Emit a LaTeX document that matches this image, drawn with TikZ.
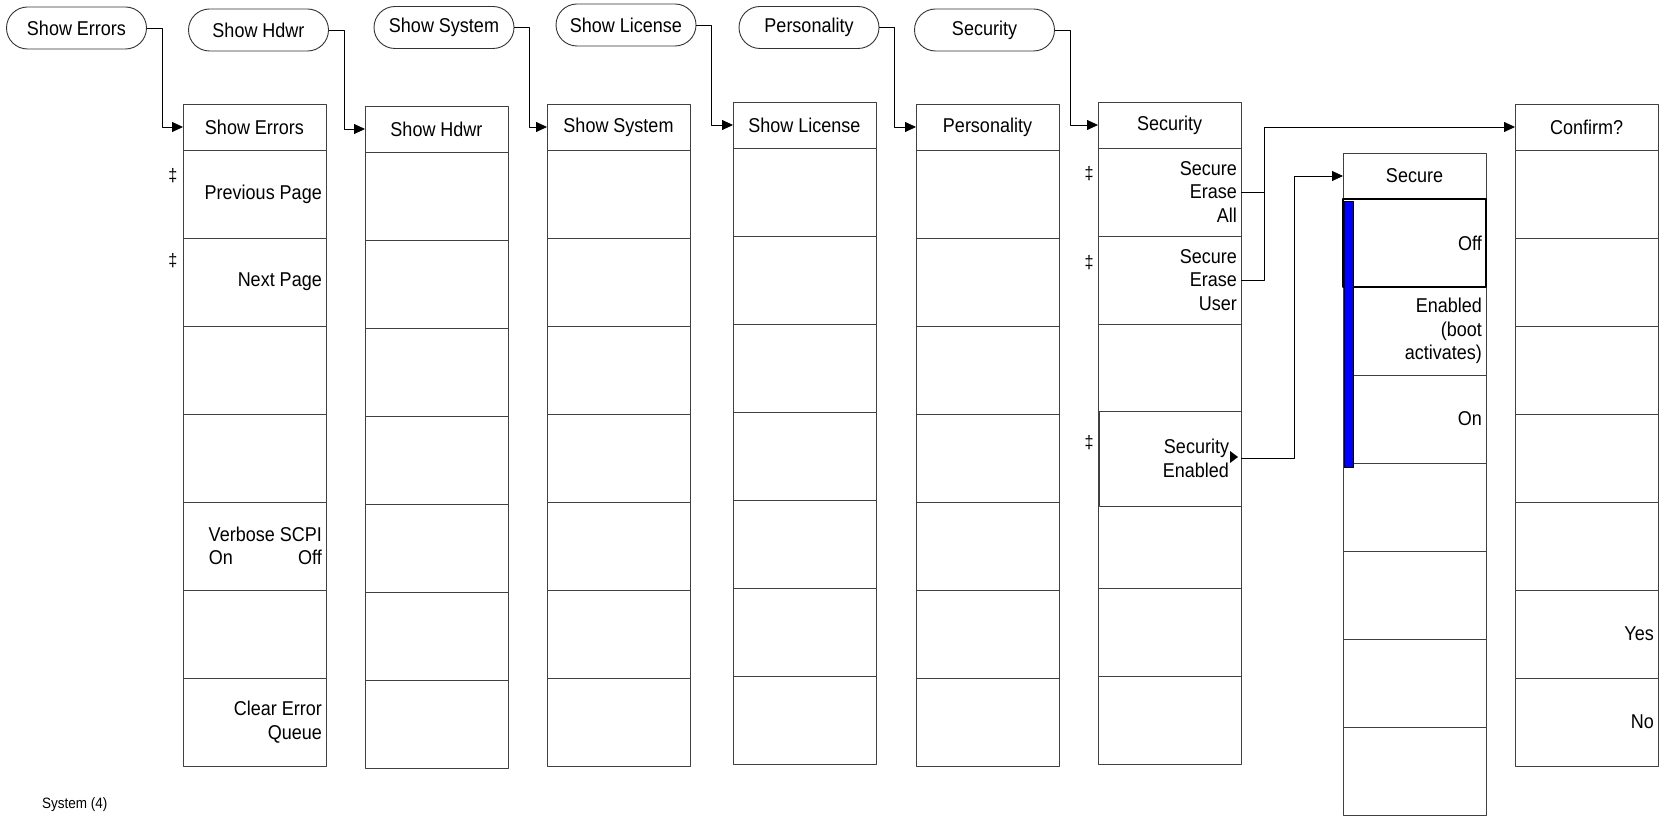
\documentclass[tikz,border=0pt]{standalone}
\usepackage{fontspec}
\setmainfont[FakeStretch=0.9]{Liberation Sans}
\usetikzlibrary{arrows.meta,positioning,shapes.misc}

\begin{document}
\begin{tikzpicture}[
  x={(1pt,0pt)},
  y={(0pt,-1pt)},
  line join=round,
  font=\fontsize{20}{23.5}\selectfont,
  node distance=0pt,
  keycap/.style={draw=black!80,line width=0.9pt,rounded rectangle,
    minimum width=140pt,minimum height=42pt,inner sep=0pt},
  menuhead/.style={draw=black!75,line width=0.9pt,anchor=north west,
    minimum width=143pt,minimum height=46pt,inner sep=0pt,outer sep=0pt},
  softkey/.style={draw=black!75,line width=0.9pt,minimum height=88pt,
    text width=135pt,inner xsep=4pt,inner ysep=0pt,outer sep=0pt,align=right},
  keytext/.style={anchor=east,align=right,inner xsep=4pt,inner ysep=0pt},
  dagger/.style={inner sep=0pt,font=\fontsize{18}{18}\selectfont},
  selbar/.style={fill=blue,draw=black,line width=0.5pt},
  link/.style={draw=black,line width=0.8pt,-{Triangle[length=11pt,width=10pt]}}
]
  \useasboundingbox (0,0) rectangle (1666,818);

  % Menu columns: header plus seven softkeys.
  \foreach \col/\x/\y/\title in {err/183/104/Show Errors, hdwr/365/106/Show Hdwr,
      sys/547/104/Show System, lic/733/102/Show License, pers/916/104/Personality,
      sec/1098/102/Security, secure/1343/153/Secure, conf/1515/104/Confirm?} {
    \node[menuhead] (\col-h) at (\x,\y) {\title};
    \node[softkey,below=of \col-h] (\col-1) {};
    \foreach \i [count=\j from 2] in {1,...,6}
      \node[softkey,below=of \col-\i] (\col-\j) {};
  }

  % Softkey labels.
  \foreach \r/\t in {err-1/Previous Page, err-2/Next Page,
      err-5/{Verbose SCPI\\\makebox[113pt]{On\hfill Off}},
      err-7/{Clear Error\\Queue},
      sec-1/{Secure\\Erase\\All}, sec-2/{Secure\\Erase\\User},
      secure-1/Off, secure-2/{Enabled\\(boot\\activates)}, secure-3/On,
      conf-6/Yes, conf-7/No}
    \node[keytext] (\r-txt) at (\r.east) {\t};

  % Security Enabled key sits slightly off the grid.
  \node[softkey,fill=white,minimum width=142pt,minimum height=95pt,text width=118pt]
    (secen) at (1170,458.5) {Security\\Enabled};
  \fill[black] ([xshift=-11pt,yshift=7.5pt]secen.east) -- ++(8,6) -- ++(-8,6) -- cycle;

  % Selected choice in the Secure menu.
  \draw[line width=1.8pt,black] (secure-1.north west) rectangle (secure-1.south east);
  \filldraw[selbar] ([xshift=1pt,yshift=-2pt]secure-1.north west)
    rectangle ([xshift=10pt,yshift=-4pt]secure-3.south west);

  % Double-dagger marks.
  \node[dagger] (dg1) at ([xshift=-10pt,yshift=-26pt]err-1.north west) {‡};
  \node[dagger] (dg2) at ([xshift=-10pt,yshift=-23pt]err-2.north west) {‡};
  \node[dagger] (dg3) at ([xshift=-9pt,yshift=-26pt]sec-1.north west) {‡};
  \node[dagger] (dg4) at ([xshift=-9pt,yshift=-27pt]sec-2.north west) {‡};
  \node[dagger] (dg5) at ([xshift=-10pt,yshift=-32pt]secen.north west) {‡};

  % Front panel keys leading to each menu.
  \foreach \k/\x/\y/\t in {err/76.5/28/Show Errors, hdwr/258.5/30/Show Hdwr,
      sys/444/27.5/Show System, lic/626/25/Show License,
      pers/809/27.5/Personality, sec/984.5/30/Security} {
    \node[keycap] (key-\k) at (\x,\y) {\t};
    \draw[link] (key-\k.east) -- ++(15,0) |- (\k-h.west);
  }

  % Links out of the Security menu.
  \draw[link] (sec-1.east) -- ++(23,0) |- (conf-h.west);
  \draw[draw=black,line width=0.8pt] (sec-2.east) -| ([xshift=23pt]sec-1.east);
  \draw[link] (secen.east) -- ++(53,0) |- (secure-h.west);

  \node[anchor=west,inner sep=0pt,font=\fontsize{15}{15}\selectfont]
    (caption) at (42,805) {System (4)};
\end{tikzpicture}
\end{document}
